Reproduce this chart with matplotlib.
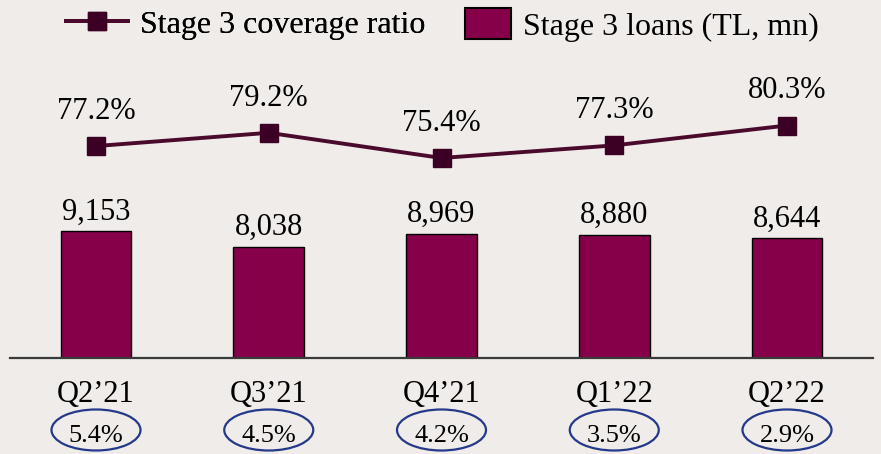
import matplotlib
matplotlib.use("Agg")
import matplotlib.pyplot as plt
from matplotlib.patches import Ellipse, Patch
from matplotlib.lines import Line2D
from matplotlib.transforms import ScaledTranslation

# Data
quarters = ["Q2\u201921", "Q3\u201921", "Q4\u201921", "Q1\u201922", "Q2\u201922"]
stage3_loans = [9153, 8038, 8969, 8880, 8644]
coverage_ratio = [77.2, 79.2, 75.4, 77.3, 80.3]
npl_ratio = ["5.4%", "4.5%", "4.2%", "3.5%", "2.9%"]

bg = "#f0ecea"
bar_color = "#850048"
line_color = "#4a0a2c"
marker_color = "#3c0024"
ellipse_color = "#25398a"

plt.rcParams["font.family"] = ["Liberation Serif", "DejaVu Serif"]

W, H = 881, 454
fig = plt.figure(figsize=(W / 100, H / 100), dpi=100)
fig.patch.set_facecolor(bg)

# axes in pixel terms: x centres 96 .. 787, baseline at y=358, top at y=60
left_px = 96 - 0.5 * 172.75
ax = fig.add_axes([left_px / W, (H - 358) / H, 5 * 172.75 / W, 298 / H])
ax.set_facecolor("none")

x = list(range(len(quarters)))
bars = ax.bar(x, stage3_loans, width=0.41, color=bar_color,
              edgecolor="black", linewidth=1.0, zorder=2)
ax.set_xlim(-0.5, 4.5)
ax.set_ylim(0, 21550)

for xi, v in zip(x, stage3_loans):
    ax.annotate(f"{v:,}", (xi, v), xytext=(0, 8.6), textcoords="offset points",
                ha="center", va="baseline", fontsize=22)

for s in ["top", "left", "right"]:
    ax.spines[s].set_visible(False)
ax.spines["bottom"].set_color("#3a3a3a")
ax.spines["bottom"].set_linewidth(1.6)
ax.set_yticks([])
ax.set_xticks(x)
ax.set_xticklabels(quarters, fontsize=22)
ax.tick_params(axis="x", length=0, pad=16)

# coverage ratio line on its own scale
ax2 = ax.twinx()
ax2.set_ylim(45.23, 90.18)
ax2.plot(x, coverage_ratio, color=line_color, linewidth=2.8,
         marker="s", markersize=12.5, markerfacecolor=marker_color,
         markeredgecolor=marker_color, zorder=3)
for xi, v in zip(x, coverage_ratio):
    ax2.annotate(f"{v:.1f}%", (xi, v), xytext=(0, 19.5), textcoords="offset points",
                 ha="center", va="baseline", fontsize=22)
ax2.set_yticks([])
for s in ax2.spines.values():
    s.set_visible(False)

# circled ratios under the quarter labels
for xi, label in zip(x, npl_ratio):
    tr = fig.dpi_scale_trans + ScaledTranslation(xi, 0, ax.transData)
    ax.add_patch(Ellipse((0, -0.72), 0.89, 0.41, transform=tr, fill=False,
                         edgecolor=ellipse_color, linewidth=1.6, clip_on=False))
    ax.annotate(label, (xi, 0), xytext=(0, -60.5), textcoords="offset points",
                ha="center", va="baseline", fontsize=19)

# legend, two pieces so each handle gets its own size
h1 = Line2D([], [], color=line_color, linewidth=2.8, marker="s", markersize=12.5,
            markerfacecolor=marker_color, markeredgecolor=marker_color)
h2 = Patch(facecolor=bar_color, edgecolor="black", linewidth=1.5)
leg1 = fig.legend([h1], ["Stage 3 coverage ratio"], loc="center left",
                  bbox_to_anchor=(66 / W, 1 - 25 / H), frameon=False, fontsize=23,
                  handlelength=1.94, handletextpad=0.37, borderpad=0, borderaxespad=0,
                  numpoints=1)
leg2 = fig.legend([h2], ["Stage 3 loans (TL, mn)"], loc="center left",
                  bbox_to_anchor=(465 / W, 1 - 25 / H), frameon=False, fontsize=23,
                  handlelength=1.44, handleheight=1.08, handletextpad=0.37,
                  borderpad=0, borderaxespad=0)
fig.add_artist(leg1)

fig.savefig("out.png", dpi=100, facecolor=bg)
